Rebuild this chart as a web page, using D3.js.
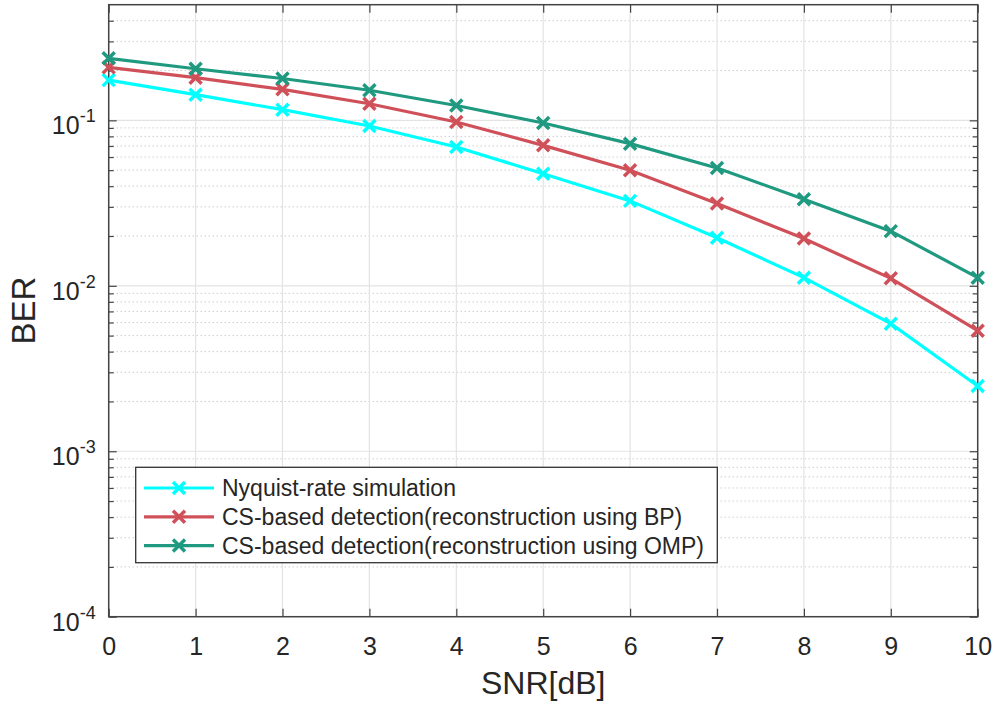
<!DOCTYPE html>
<html lang="en">
<head>
    <meta charset="UTF-8">
    <title>BER vs SNR</title>
    <script src="https://d3js.org/d3.v7.min.js"></script>
    <style>
        body { margin: 0; background: #fff; }
        svg { display: block; font-family: "Liberation Sans", Arial, sans-serif; }
    </style>
</head>
<body>
    <div id="chart"></div>

    <script>
    // SNR values in dB
    const snr = [0, 1, 2, 3, 4, 5, 6, 7, 8, 9, 10];

    // BER curves
    const nyquist = [0.175, 0.143, 0.116, 0.0924, 0.069, 0.0476, 0.0326, 0.0195, 0.0112, 0.0059, 0.00248];
    const csBP    = [0.209, 0.181, 0.154, 0.126, 0.0977, 0.0706, 0.0499, 0.0314, 0.0193, 0.0111, 0.00535];
    const csOMP   = [0.237, 0.205, 0.179, 0.152, 0.123, 0.0964, 0.0723, 0.0515, 0.0334, 0.0214, 0.0112];

    const seriesNames = [
        "Nyquist-rate simulation",
        "CS-based detection(reconstruction using BP)",
        "CS-based detection(reconstruction using OMP)"
    ];
    const yTickExps = [-4, -3, -2, -1];

    const width = 996, height = 708;
    const pLeft = 108.7, pRight = 977.7, pTop = 4.7, pBottom = 616.7;
    const colors = ["#00ffff", "#d0505a", "#1f9a80"];
    const textColor = "#262626";
    const axisColor = "#444";

    const svg = d3.select("#chart").append("svg")
        .attr("width", width)
        .attr("height", height);

    const x = d3.scaleLinear().domain([0, 10]).range([pLeft, pRight]);
    const y = d3.scaleLog().domain([1e-4, 0.5]).range([pBottom, pTop]);

    // minor grid (dotted)
    const minorVals = [];
    yTickExps.forEach(e => {
        for (let m = 2; m <= 9; m++) {
            const v = m * Math.pow(10, e);
            if (v < 0.5) minorVals.push(v);
        }
    });
    svg.append("g").selectAll("line")
        .data(minorVals)
        .join("line")
        .attr("x1", pLeft).attr("x2", pRight)
        .attr("y1", d => y(d)).attr("y2", d => y(d))
        .attr("stroke", "#b5b5b5")
        .attr("stroke-width", 1)
        .attr("stroke-dasharray", "1,3");

    // major grid
    const yMajor = yTickExps.map(e => Math.pow(10, e));
    svg.append("g").selectAll("line")
        .data(snr)
        .join("line")
        .attr("x1", d => x(d)).attr("x2", d => x(d))
        .attr("y1", pTop).attr("y2", pBottom)
        .attr("stroke", "#e3e3e3")
        .attr("stroke-width", 1.2);
    svg.append("g").selectAll("line")
        .data(yMajor)
        .join("line")
        .attr("x1", pLeft).attr("x2", pRight)
        .attr("y1", d => y(d)).attr("y2", d => y(d))
        .attr("stroke", "#e3e3e3")
        .attr("stroke-width", 1.2);

    // axes with ticks pointing inward, MATLAB box style
    const xAxisB = d3.axisBottom(x).tickValues(snr).tickSizeInner(-8).tickSizeOuter(0).tickFormat(d3.format("d")).tickPadding(21);
    const xAxisT = d3.axisTop(x).tickValues(snr).tickSizeInner(-8).tickSizeOuter(0).tickFormat("");

    const gxb = svg.append("g").attr("transform", `translate(0,${pBottom})`).call(xAxisB);
    const gxt = svg.append("g").attr("transform", `translate(0,${pTop})`).call(xAxisT);
    [gxb, gxt].forEach(g => {
        g.select(".domain").remove();
        g.selectAll("line").attr("stroke", axisColor).attr("stroke-width", 1.2);
    });
    gxb.selectAll("text")
        .attr("fill", textColor)
        .attr("font-size", 25)
        .attr("font-family", "Liberation Sans, Arial, sans-serif");

    [[d3.axisLeft, pLeft], [d3.axisRight, pRight]].forEach(([fn, pos]) => {
        const gMaj = svg.append("g").attr("transform", `translate(${pos},0)`)
            .call(fn(y).tickValues(yMajor).tickSizeInner(-8).tickSizeOuter(0).tickFormat(""));
        gMaj.select(".domain").remove();
        gMaj.selectAll("line").attr("stroke", axisColor).attr("stroke-width", 1.2);
        const gMin = svg.append("g").attr("transform", `translate(${pos},0)`)
            .call(fn(y).tickValues(minorVals).tickSizeInner(-5).tickSizeOuter(0).tickFormat(""));
        gMin.select(".domain").remove();
        gMin.selectAll("line").attr("stroke", axisColor).attr("stroke-width", 1.2);
    });

    // y tick labels: 10^e
    const ylab = svg.append("g").selectAll("text")
        .data(yTickExps)
        .join("text")
        .attr("x", pLeft - 13)
        .attr("y", d => y(Math.pow(10, d)) + 14)
        .attr("text-anchor", "end")
        .attr("fill", textColor)
        .attr("font-size", 25);
    ylab.append("tspan").text("10");
    ylab.append("tspan")
        .attr("dy", -12)
        .attr("font-size", 18)
        .text(d => "-" + Math.abs(d));

    // box
    svg.append("rect")
        .attr("x", pLeft).attr("y", pTop)
        .attr("width", pRight - pLeft).attr("height", pBottom - pTop)
        .attr("fill", "none")
        .attr("stroke", axisColor)
        .attr("stroke-width", 1.5);

    // series
    const allSeries = [nyquist, csBP, csOMP];
    const line = d3.line().x((d, i) => x(snr[i])).y(d => y(d));
    const mk = 6;
    function drawX(g, cx, cy, color) {
        g.append("path")
            .attr("d", `M${cx - mk},${cy - mk}L${cx + mk},${cy + mk}M${cx - mk},${cy + mk}L${cx + mk},${cy - mk}`)
            .attr("stroke", color)
            .attr("stroke-width", 3.5)
            .attr("fill", "none");
    }
    allSeries.forEach((vals, k) => {
        const g = svg.append("g");
        g.append("path")
            .datum(vals)
            .attr("d", line)
            .attr("fill", "none")
            .attr("stroke", colors[k])
            .attr("stroke-width", 3.2);
        vals.forEach((v, i) => drawX(g, x(snr[i]), y(v), colors[k]));
    });

    // legend
    const lg = svg.append("g");
    lg.append("rect")
        .attr("x", 135.7).attr("y", 467.3)
        .attr("width", 581.6).attr("height", 95.4)
        .attr("fill", "#fff")
        .attr("stroke", "#333")
        .attr("stroke-width", 1.3);
    seriesNames.forEach((name, k) => {
        const ly = 488 + k * 28.8;
        lg.append("line")
            .attr("x1", 144).attr("x2", 214)
            .attr("y1", ly).attr("y2", ly)
            .attr("stroke", colors[k])
            .attr("stroke-width", 3.2);
        drawX(lg, 179, ly, colors[k]);
        lg.append("text")
            .attr("x", 222).attr("y", ly + 8)
            .attr("fill", textColor)
            .attr("font-size", 23)
            .text(name);
    });

    // axis titles
    svg.append("text")
        .attr("x", (pLeft + pRight) / 2)
        .attr("y", 694)
        .attr("text-anchor", "middle")
        .attr("fill", textColor)
        .attr("font-size", 32)
        .text("SNR[dB]");
    svg.append("text")
        .attr("transform", `translate(35,${(pTop + pBottom) / 2}) rotate(-90)`)
        .attr("text-anchor", "middle")
        .attr("fill", textColor)
        .attr("font-size", 33)
        .text("BER");
    </script>
</body>
</html>
